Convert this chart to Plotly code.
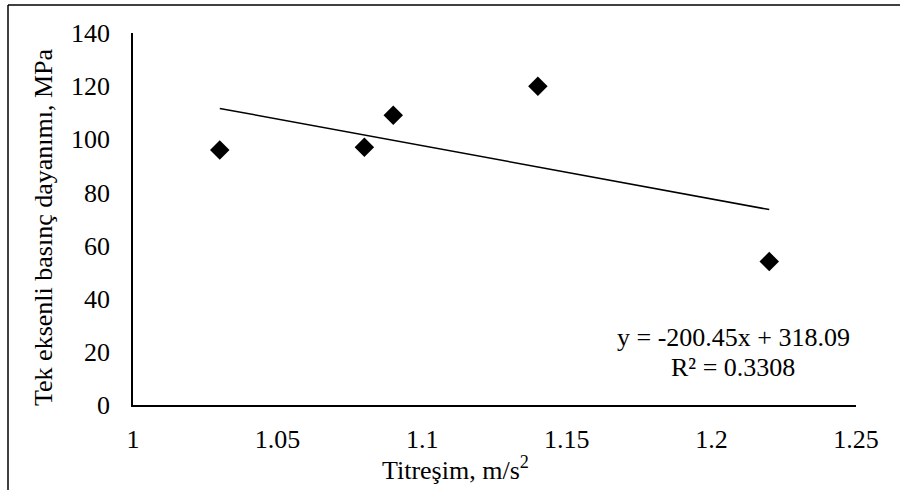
import plotly.graph_objects as go

x_vals = [1.03, 1.08, 1.09, 1.14, 1.22]
y_vals = [96, 97, 109, 120, 54]
slope = -200.45
intercept = 318.09
r2 = 0.3308
x_ticks = [1, 1.05, 1.1, 1.15, 1.2, 1.25]
x_tick_labels = ["1", "1.05", "1.1", "1.15", "1.2", "1.25"]
y_ticks = [0, 20, 40, 60, 80, 100, 120, 140]

FONT = "Liberation Serif"
FS = 26

W, H = 900, 490
L, R, T, B = 133, 44, 33, 85
pw, ph = W - L - R, H - T - B

def px(xp):
    return (xp - L) / pw

def py(yp):
    return (H - B - yp) / ph

fig = go.Figure()
trend_x = [min(x_vals), max(x_vals)]
trend_y = [slope * v + intercept for v in trend_x]
fig.add_trace(go.Scatter(x=trend_x, y=trend_y, mode="lines",
                         line=dict(color="black", width=1.5), showlegend=False, hoverinfo="skip"))
fig.add_trace(go.Scatter(x=x_vals, y=y_vals, mode="markers",
                         marker=dict(symbol="diamond", size=15, color="black"), showlegend=False))

txt = dict(family=FONT, size=FS, color="black")
fig.update_layout(
    width=W, height=H,
    margin=dict(l=L, r=R, t=T, b=B, pad=0),
    paper_bgcolor="white", plot_bgcolor="white",
    font=txt,
    xaxis=dict(range=[1, 1.25], tickvals=x_ticks, ticktext=x_tick_labels,
               showgrid=False, zeroline=False, showline=True, linecolor="black", linewidth=1.5,
               ticks="", ticklabelstandoff=10, tickfont=txt),
    yaxis=dict(range=[0, 140], tickvals=y_ticks,
               showgrid=False, zeroline=False, showline=True, linecolor="black", linewidth=1.5,
               ticks="", ticklabelstandoff=16, tickfont=txt),
    shapes=[
        dict(type="line", xref="paper", yref="paper", x0=px(8), x1=px(905), y0=py(5), y1=py(5),
             line=dict(color="black", width=1.5)),
        dict(type="line", xref="paper", yref="paper", x0=px(8), x1=px(8), y0=py(5), y1=py(495),
             line=dict(color="black", width=1.5)),
    ],
    annotations=[
        dict(xref="paper", yref="paper", x=px(455), y=py(468), xanchor="center", yanchor="middle",
             text="Titreşim, m/s<sup>2</sup>", showarrow=False, font=txt),
        dict(xref="paper", yref="paper", x=px(43), y=py(227), xanchor="center", yanchor="middle",
             text="Tek eksenli basınç dayanımı, MPa", showarrow=False, textangle=-90, font=txt),
        dict(xref="paper", yref="paper", x=px(733), y=py(337), xanchor="center", yanchor="middle",
             text=f"y = {slope}x + {intercept}", showarrow=False, font=txt),
        dict(xref="paper", yref="paper", x=px(733), y=py(367), xanchor="center", yanchor="middle",
             text=f"R² = {r2}", showarrow=False, font=txt),
    ],
)

fig.write_html("out.html")
